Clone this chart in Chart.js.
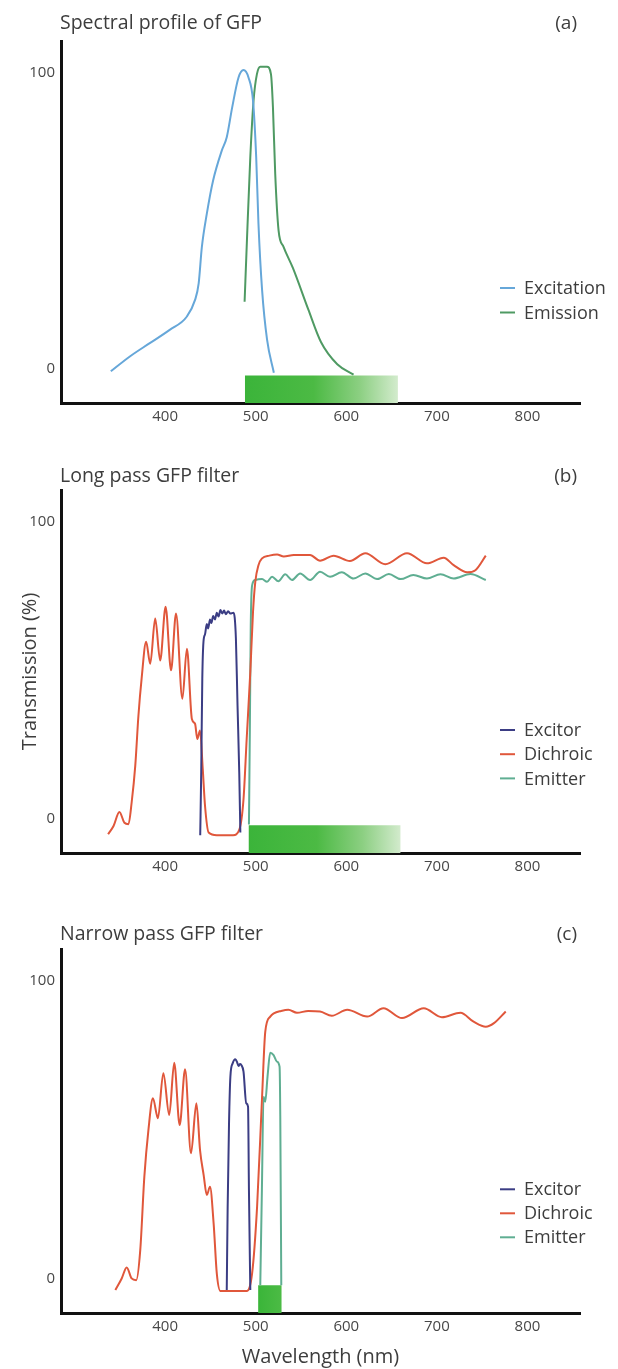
<!DOCTYPE html>
<html>
<head>
<meta charset="utf-8">
<script src="https://cdn.jsdelivr.net/npm/chart.js@4.4.1/dist/chart.umd.min.js"></script>
<style>
  body { margin: 0; background: #fff; }
  #wrap { position: relative; width: 618px; height: 1369px; font-family: "Open Sans", sans-serif; color: #3d3d3d; }
  #wrap canvas { position: absolute; left: 0; }
  .ttl { position: absolute; left: 60px; font-size: 19.5px; line-height: 24px; white-space: nowrap; }
  .tag { position: absolute; right: 41px; font-size: 19px; line-height: 24px; }
</style>
</head>
<body>
<div id="wrap">
  <canvas id="chartA" width="618" height="440" style="top:0"></canvas>
  <canvas id="chartB" width="618" height="440" style="top:440px"></canvas>
  <canvas id="chartC" width="618" height="489" style="top:880px"></canvas>
  <div class="ttl" style="top:10px">Spectral profile of GFP</div>
  <div class="tag" style="top:10px">(a)</div>
  <div class="ttl" style="top:463px">Long pass GFP filter</div>
  <div class="tag" style="top:463px">(b)</div>
  <div class="ttl" style="top:921px">Narrow pass GFP filter</div>
  <div class="tag" style="top:921px">(c)</div>
</div>
<script>
// axis ranges and ticks
const X_MIN = 285, X_MAX = 858;
const Y_MIN = -11.6, Y_MAX = 110.6;
const xTicks = [400, 500, 600, 700, 800];
const yTicks = [0, 100];

// (a) spectral profile of GFP
const excitationNm = [340, 361, 383, 405, 424, 433, 437, 440.5, 446, 453, 462.5, 468, 474, 481, 486.5, 492, 497, 500.5, 503, 507, 512.5, 520];
const excitationVal = [-0.9, 4.1, 8.6, 13.1, 17.6, 23.2, 28.8, 41, 52.3, 63.6, 73.6, 78.1, 88.2, 98.3, 100.8, 98.3, 90.4, 71.4, 49, 26.6, 9.8, -1.4];
const emissionNm = [487.7, 490.3, 494, 497.6, 501.3, 505, 512.4, 516.8, 519, 521.5, 525.2, 530.7, 541, 558, 572, 590, 608];
const emissionVal = [22.6, 43.4, 71.4, 90.5, 99.4, 101.9, 101.9, 99.4, 88.2, 65.8, 46.7, 41.1, 34, 20, 9, 1.5, -2];
const bandA = [488, 657];

// (b) long pass filter set
const excitorBNm = [438.7, 439.8, 441, 442.3, 444, 446, 447.5, 449.5, 451, 453, 455, 457, 459, 461, 463, 465, 467, 469.5, 472, 475.5, 478.1, 479.9, 481.8, 483];
const excitorBVal = [-5.6, 15.5, 47.1, 59.5, 62, 65.5, 64, 67, 65.8, 68.2, 67, 69.3, 68, 70.2, 69, 70, 68.8, 69.8, 69, 69.3, 60.6, 38, 15.5, -4.7];
const dichroicBNm = [337, 343, 349.5, 355, 359.5, 363, 367, 370.5, 374, 379, 383.5, 389, 394.5, 400.5, 406.5, 412, 419, 424, 429.5, 433, 435.5, 438.5, 441.5, 444, 448, 457, 475, 482, 486.5, 490, 494, 497, 499.5, 503, 507, 515, 523.5, 531, 542, 560, 571, 586, 604, 621, 643, 667, 689, 707.5, 718.5, 733.5, 742.5, 754];
const dichroicBVal = [-5.3, -2.5, 2.2, -1.4, -1.9, 5.4, 17.8, 34.7, 47.1, 59.5, 52.1, 67.3, 53.2, 71.3, 49.9, 69, 40.3, 57.2, 33.5, 31.9, 26.8, 29.6, 16.7, 4.3, -4.7, -5.6, -5.6, -3.6, 6.5, 26.8, 49.3, 69.6, 79.7, 85.3, 87.6, 88.5, 88.9, 88.2, 88.7, 88.7, 86.8, 88.5, 86.7, 89.3, 85.6, 89.3, 85.9, 87.8, 85.3, 82.9, 83.6, 88.5];
const emitterBNm = [492.5, 493.5, 494.5, 496, 499.5, 507, 512.5, 518, 525, 532.5, 540, 549, 560, 571, 582, 595, 608, 621, 634, 647, 660, 674, 689, 704, 718.5, 737, 754];
const emitterBVal = [-2, 30, 65, 78.5, 80.3, 80.6, 79.7, 81.4, 79.9, 82.2, 80.3, 82.5, 80.3, 83.1, 81.4, 82.9, 80.8, 82.5, 80.6, 82.3, 80.6, 82, 80.8, 82.2, 80.8, 82.3, 80.3];
const bandB = [492, 660];

// (c) narrow pass filter set
const excitorCNm = [468, 469, 470.5, 472, 474.5, 477.5, 479.5, 481, 482.5, 484, 486.5, 489.5, 491.5, 492.5, 494];
const excitorCVal = [-3.9, 24, 52, 67.7, 72.2, 73.6, 72.5, 71.3, 72, 71.7, 69.4, 58.8, 57.7, 29.7, -3.9];
const dichroicCNm = [345, 352, 357.5, 363, 368, 372.5, 377, 381.5, 386.5, 392, 398, 404.5, 410, 416, 422, 428.5, 434.5, 438.5, 442.5, 446, 449.5, 453.5, 457, 461, 490, 496, 501.5, 507, 510.5, 516, 520, 528, 536, 545.5, 558, 571, 584, 601, 623, 641, 661.5, 685.5, 705.5, 726, 740.5, 754, 763, 776];
const dichroicCVal = [-3.9, 0, 3.7, 0, -0.6, 9.5, 34.1, 49.8, 60.5, 53.8, 68.9, 54.9, 72.4, 51.5, 70.2, 42, 58.8, 43.1, 34.7, 28, 30.8, 18.5, 1.7, -4.2, -4.2, 1.7, 24.1, 61, 82.8, 87.9, 89, 89.8, 90.2, 89.2, 89.8, 89.6, 88.2, 90.2, 87.9, 90.7, 87.4, 90.7, 87.7, 89.2, 86.2, 84.5, 85.7, 89.6];
const emitterCNm = [505, 506.8, 508.6, 510.5, 513, 516, 519.7, 523.4, 526.3, 527.1, 528.2];
const emitterCVal = [-2.3, 29.7, 61, 59.3, 67.7, 75.8, 75, 72.8, 71.1, 54.3, -2.3];
const bandC = [502.6, 528.7];

const bandLevel = -2.3;

const TEXT = "#474747";
const FONT = '"Open Sans", sans-serif';

function pts(xs, ys) {
  return xs.map((x, i) => ({ x: x, y: ys[i] }));
}

function lineDs(label, xs, ys, color) {
  return {
    label: label,
    data: pts(xs, ys),
    borderColor: color,
    borderWidth: 2,
    pointRadius: 0,
    fill: false,
    cubicInterpolationMode: "monotone"
  };
}

// green detection band, filled down to the x axis
function bandDs(range, stops) {
  return {
    label: "",
    data: [{ x: range[0], y: bandLevel }, { x: range[1], y: bandLevel }],
    borderWidth: 0,
    pointRadius: 0,
    fill: "start",
    backgroundColor: function (c) {
      const chart = c.chart;
      if (!chart.chartArea) return stops[0][1];
      const sx = chart.scales.x;
      const g = chart.ctx.createLinearGradient(sx.getPixelForValue(range[0]), 0, sx.getPixelForValue(range[1]), 0);
      stops.forEach(s => g.addColorStop(s[0], s[1]));
      return g;
    }
  };
}

const fadeStops = [[0, "#3bb43a"], [0.45, "#4cba44"], [0.75, "#8ccf82"], [1, "#d3ebcd"]];
const solidStops = [[0, "#3ab539"], [1, "#4cbb45"]];

// legend drawn inside the plot, lower right
const insideLegend = {
  id: "insideLegend",
  afterDraw(chart, args, opts) {
    const ctx = chart.ctx;
    ctx.save();
    ctx.font = "18px " + FONT;
    ctx.textBaseline = "middle";
    let y = opts.y;
    chart.data.datasets.forEach(ds => {
      if (!ds.label) return;
      ctx.strokeStyle = ds.borderColor;
      ctx.lineWidth = 2;
      ctx.beginPath();
      ctx.moveTo(500, y);
      ctx.lineTo(515, y);
      ctx.stroke();
      ctx.fillStyle = "#3d3d3d";
      ctx.fillText(ds.label, 524, y + 1);
      y += opts.step;
    });
    ctx.restore();
  }
};

function makeChart(id, datasets, o) {
  return new Chart(document.getElementById(id), {
    type: "line",
    data: { datasets: datasets },
    options: {
      responsive: false,
      animation: false,
      events: [],
      layout: { padding: { top: o.top, right: 38, left: 0, bottom: 0 } },
      plugins: {
        legend: { display: false },
        tooltip: { enabled: false },
        insideLegend: { y: o.legendY, step: o.legendStep }
      },
      scales: {
        x: {
          type: "linear",
          min: X_MIN,
          max: X_MAX,
          afterBuildTicks: s => { s.ticks = xTicks.map(v => ({ value: v })); },
          afterFit: s => { s.height = o.xh; },
          grid: { display: false, drawTicks: false },
          border: { display: true, color: "#111", width: 3 },
          ticks: { color: TEXT, font: { family: FONT, size: 15 }, padding: 5, maxRotation: 0 },
          title: o.xTitle ? { display: true, text: o.xTitle, color: "#3d3d3d", font: { family: FONT, size: 20 }, padding: { top: 0, bottom: 0 } } : { display: false }
        },
        y: {
          min: Y_MIN,
          max: Y_MAX,
          afterBuildTicks: s => { s.ticks = yTicks.map(v => ({ value: v })); },
          afterFit: s => { s.width = 61; },
          grid: { display: false, drawTicks: false },
          border: { display: true, color: "#111", width: 3 },
          ticks: { color: TEXT, font: { family: FONT, size: 15 }, padding: 6 },
          title: o.yTitle ? { display: true, text: o.yTitle, color: "#3d3d3d", font: { family: FONT, size: 20 }, padding: { top: 18, bottom: 0 } } : { display: false }
        }
      }
    },
    plugins: [insideLegend]
  });
}

makeChart("chartA", [
  lineDs("Excitation", excitationNm, excitationVal, "#66a7d9"),
  lineDs("Emission", emissionNm, emissionVal, "#4f9a63"),
  bandDs(bandA, fadeStops)
], { top: 41, xh: 37, legendY: 288, legendStep: 24.5 });

makeChart("chartB", [
  lineDs("Excitor", excitorBNm, excitorBVal, "#3b3d84"),
  lineDs("Dichroic", dichroicBNm, dichroicBVal, "#e0573b"),
  lineDs("Emitter", emitterBNm, emitterBVal, "#5fae92"),
  bandDs(bandB, fadeStops)
], { top: 50, xh: 27, legendY: 290, legendStep: 24.2, yTitle: "Transmission (%)" });

makeChart("chartC", [
  lineDs("Excitor", excitorCNm, excitorCVal, "#3b3d84"),
  lineDs("Dichroic", dichroicCNm, dichroicCVal, "#e0573b"),
  lineDs("Emitter", emitterCNm, emitterCVal, "#5fae92"),
  bandDs(bandC, solidStops)
], { top: 69, xh: 56, legendY: 309.3, legendStep: 24, xTitle: "Wavelength (nm)" });
</script>
</body>
</html>
